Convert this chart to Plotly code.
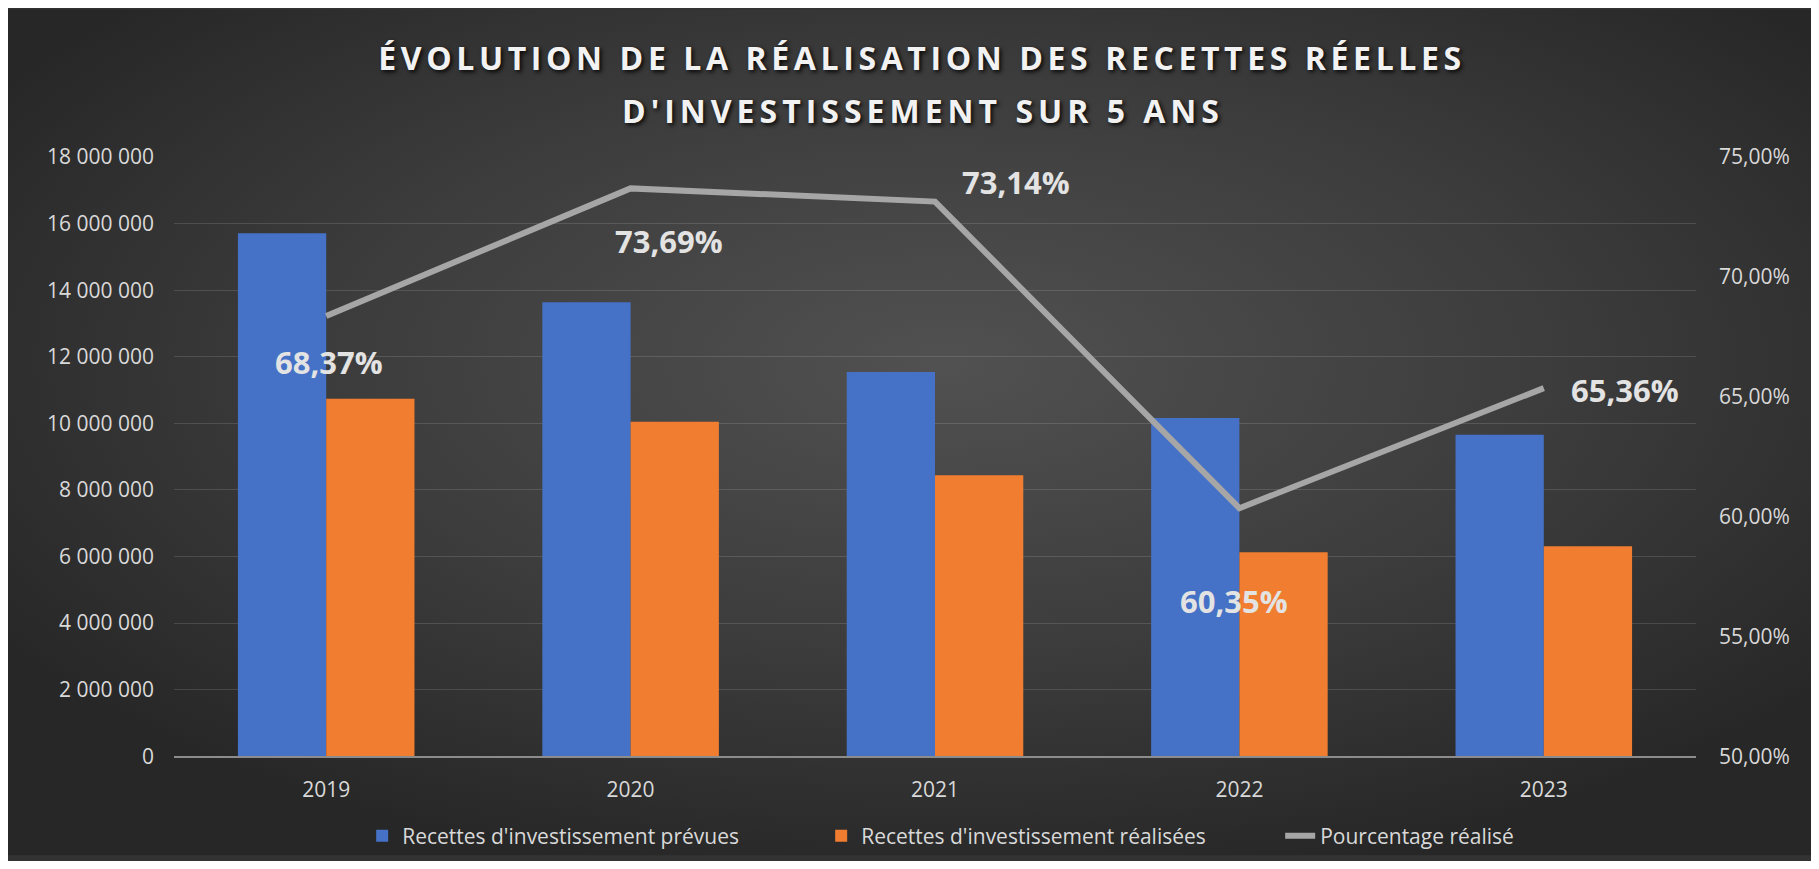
import base64
import plotly.graph_objects as go

# ---------------- data ----------------
years = ["2019", "2020", "2021", "2022", "2023"]
prevues = [15710000, 13640000, 11540000, 10160000, 9660000]
realisees = [10740000, 10050000, 8440000, 6130000, 6310000]
pourcentage = [0.6837, 0.7369, 0.7314, 0.6035, 0.6536]

series_names = [
    "Recettes d'investissement prévues",
    "Recettes d'investissement réalisées",
    "Pourcentage réalisé",
]
title_line1 = "ÉVOLUTION DE LA RÉALISATION DES RECETTES RÉELLES"
title_line2 = "D'INVESTISSEMENT SUR 5 ANS"

# label offsets (pixels) for the percentage labels
label_dx = [3, 38, 81, -5, 81]
label_dy = [-46, -53, 20, -93, -2]

# ---------------- geometry ----------------
W, H = 1803, 853
L, R, T, B = 166, 115, 149, 100
PW = W - L - R
PH = H - T - B

FONT = "Open Sans"
TXT = "#d9d9d9"
TICK = 21

svg = f"""<svg xmlns='http://www.w3.org/2000/svg' width='{W}' height='{H}' preserveAspectRatio='none' viewBox='0 0 {W} {H}'>
<defs><radialGradient id='g' cx='0.52' cy='0.42' r='0.62'>
<stop offset='0' stop-color='#515151'/><stop offset='0.55' stop-color='#3c3c3c'/><stop offset='1' stop-color='#272727'/>
</radialGradient></defs><rect x='0' y='0' width='{W}' height='{H}' fill='url(#g)'/></svg>"""
bg_uri = "data:image/svg+xml;base64," + base64.b64encode(svg.encode()).decode()

fig = go.Figure()
fig.add_trace(go.Bar(
    x=years, y=prevues, name=series_names[0],
    marker=dict(color="#4571c6", line=dict(width=0)),
))
fig.add_trace(go.Bar(
    x=years, y=realisees, name=series_names[1],
    marker=dict(color="#f17e30", line=dict(width=0)),
))
fig.add_trace(go.Scatter(
    x=years, y=pourcentage, name=series_names[2], yaxis="y2",
    mode="lines", line=dict(color="#a6a6a6", width=6),
))

annotations = []
for i, (p, dx, dy) in enumerate(zip(pourcentage, label_dx, label_dy)):
    annotations.append(dict(
        x=i, y=p, xref="x", yref="y2",
        text=f"{p*100:.2f}%".replace(".", ","),
        showarrow=False, xshift=dx, yshift=dy,
        font=dict(family=FONT, size=31, color="#e3e3e3", weight="bold"),
    ))
annotations.append(dict(
    x=(923 - 8 - L) / PW, y=1 + (T - 102) / PH, xref="paper", yref="paper",
    text=f'<span style="letter-spacing:5px">{title_line2}</span>',
    showarrow=False, xanchor="center", yanchor="middle",
    font=dict(family=FONT, size=32, color="#f2f2f2", weight="bold",
              shadow="2px 2px 4px rgba(0,0,0,0.9)"),
))

fig.update_layout(
    width=W, height=H,
    margin=dict(l=L, r=R, t=T, b=B, pad=0),
    paper_bgcolor="#333333",
    plot_bgcolor="rgba(0,0,0,0)",
    separators=", ",
    barmode="group", bargap=0.42, bargroupgap=0,
    font=dict(family=FONT, color=TXT, size=TICK),
    title=dict(
        text=f'<span style="letter-spacing:4.6px">{title_line1}</span>',
        x=(922 - 8) / W, xanchor="center",
        y=1 - 50.5 / H, yanchor="middle", yref="container",
        font=dict(family=FONT, size=32, color="#f2f2f2", weight="bold",
                  shadow="2px 2px 4px rgba(0,0,0,0.9)"),
    ),
    xaxis=dict(
        type="category", range=[-0.5, len(years) - 0.5],
        showgrid=False, showline=True,
        linecolor="#8c8c8c", linewidth=2, ticks="",
        ticklabelstandoff=14,
        tickfont=dict(family=FONT, size=TICK, color=TXT),
    ),
    yaxis=dict(
        range=[0, 18000000], dtick=2000000, tickformat=",d",
        showgrid=True, gridcolor="rgba(255,255,255,0.13)", gridwidth=1,
        zeroline=False, showline=False, ticks="",
        ticklabelstandoff=19,
        tickfont=dict(family=FONT, size=TICK, color=TXT),
    ),
    yaxis2=dict(
        overlaying="y", side="right",
        range=[0.5, 0.75], dtick=0.05, tickformat=".2%",
        showgrid=False, zeroline=False, showline=False, ticks="",
        ticklabelstandoff=22,
        tickfont=dict(family=FONT, size=TICK, color=TXT),
    ),
    legend=dict(
        orientation="h", x=0.576, xanchor="center",
        yref="container", y=1 - 828 / H, yanchor="middle",
        font=dict(family=FONT, size=TICK, color=TXT),
        bgcolor="rgba(0,0,0,0)", entrywidth=414, traceorder="normal",
    ),
    annotations=annotations,
    images=[dict(
        source=bg_uri, xref="paper", yref="paper",
        x=-L / PW, y=1 + T / PH, sizex=W / PW, sizey=H / PH,
        xanchor="left", yanchor="top", sizing="stretch", layer="below",
    )],
    showlegend=True,
    hovermode=False,
)

fig.write_html("out.html")
